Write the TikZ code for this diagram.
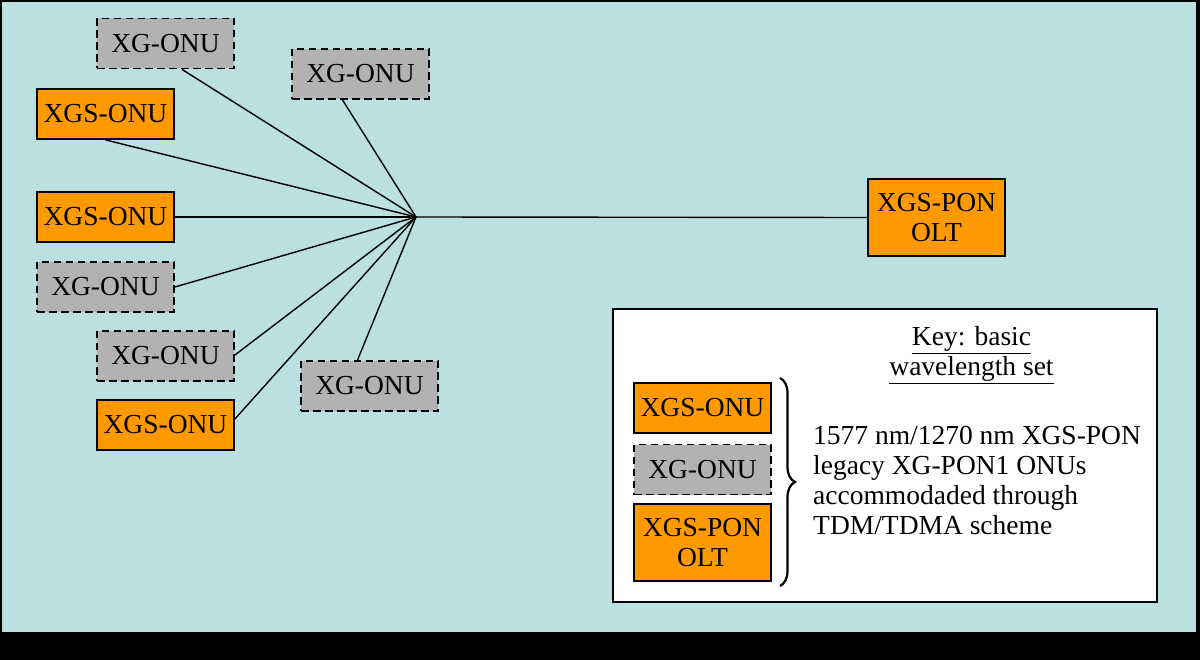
\documentclass[tikz,border=0pt]{standalone}
\usepackage{fontspec}
\setmainfont{Liberation Serif}
\usetikzlibrary{decorations.pathreplacing}
\definecolor{bgblue}{RGB}{186,224,226}
\definecolor{onuorange}{RGB}{255,153,0}
\definecolor{onugray}{RGB}{178,178,178}
\begin{document}
\begin{tikzpicture}[x=1pt,y=-1pt,
  box/.style={draw=black, line width=1.8pt, minimum width=137pt, minimum height=50pt,
    inner sep=0pt, font=\fontsize{27.5}{30}\selectfont, align=center},
  xgs/.style={box, fill=onuorange},
  xg/.style={box, fill=onugray, dash pattern=on 7.5pt off 4.5pt},
  link/.style={line width=1.4pt},
  txt/.style={inner sep=0pt, font=\fontsize{27.5}{30}\selectfont}]
\useasboundingbox (0,0) rectangle (1200,660);
\fill[black] (0,0) rectangle (1200,660);
\fill[bgblue] (2,2) rectangle (1196,632);

\node[xg]  (n1) at (165.5,43.5) {XG-ONU};
\node[xg]  (n2) at (360.5,74) {XG-ONU};
\node[xgs] (n3) at (105.5,114) {XGS-ONU};
\node[xgs] (n4) at (105.5,217) {XGS-ONU};
\node[xg]  (n5) at (105.5,287) {XG-ONU};
\node[xg]  (n6) at (165.5,356) {XG-ONU};
\node[xgs] (n7) at (165.5,425) {XGS-ONU};
\node[xg]  (n8) at (369.5,386) {XG-ONU};
\node[xgs, minimum height=77pt] (olt) at (936.5,217.5) {XGS-PON\\OLT};

\coordinate (hub) at (416,217);
\draw[link] ([xshift=16.5pt]n1.south) -- (hub);
\draw[link] ([xshift=-18pt]n2.south) -- (hub);
\draw[link] (n3.south) -- (hub);
\draw[link] (n4.east) -- (hub);
\draw[link] (n5.east) -- (hub);
\draw[link] ([yshift=1pt]n6.east) -- (hub);
\draw[link] ([yshift=6pt]n7.east) -- (hub);
\draw[link] ([xshift=-12pt]n8.north) -- (hub);
\draw[link] (hub) -- (olt.west);

\node[draw=black, line width=1.5pt, fill=white, minimum width=544pt, minimum height=293pt, inner sep=0pt] (key) at (885,455.5) {};
\node[xgs] (k1) at (702.5,408) {XGS-ONU};
\node[xg]  (k2) at (702.5,469.5) {XG-ONU};
\node[xgs, minimum height=77pt] (k3) at (702.5,542.5) {XGS-PON\\OLT};

\coordinate (bt) at (780,378);
\coordinate (bb) at (780,586);
\draw[line width=2.2pt, decorate, decoration={brace, amplitude=15pt}] (bt) -- (bb);

\node[txt, anchor=north, align=center] (keytitle) at (971.5,326.5) {\underline{Key: basic}\\\underline{wavelength set}};
\node[txt, anchor=north west, align=left] (keytext) at (813,426.5) {1577 nm/1270 nm XGS-PON\\legacy XG-PON1 ONUs\\accommodaded through\\TDM/TDMA scheme};
\end{tikzpicture}
\end{document}
